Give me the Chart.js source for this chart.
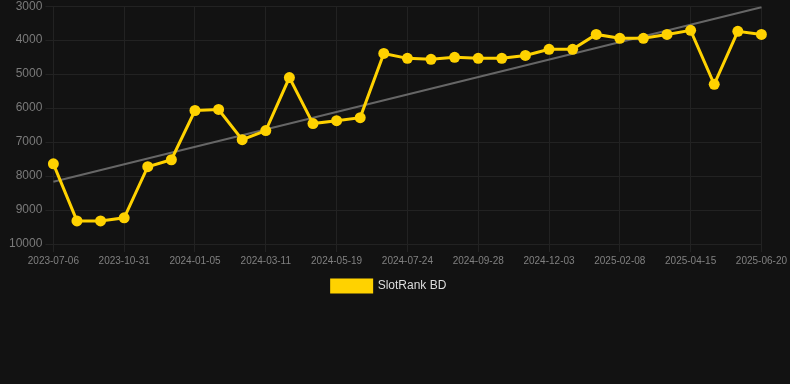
<!DOCTYPE html>
<html>
<head>
<meta charset="utf-8">
<script src="https://cdn.jsdelivr.net/npm/chart.js@4.4.0/dist/chart.umd.min.js"></script>
<style>
  html, body { margin: 0; padding: 0; background: #121212; overflow: hidden; }
  #wrap { width: 790px; height: 306px; position: relative; top: -4px; }
</style>
</head>
<body>
<div id="wrap"><canvas id="c"></canvas></div>
<script>
const dates = [
  "2023-07-06","2023-08-14","2023-09-22","2023-10-31","2023-11-22","2023-12-14",
  "2024-01-05","2024-01-27","2024-02-18","2024-03-11","2024-04-03","2024-04-26",
  "2024-05-19","2024-06-10","2024-07-02","2024-07-24","2024-08-15","2024-09-06",
  "2024-09-28","2024-10-20","2024-11-11","2024-12-03","2024-12-25","2025-01-17",
  "2025-02-08","2025-03-02","2025-03-24","2025-04-15","2025-05-07","2025-05-29",
  "2025-06-20"
];
const rankValues = [
  7640, 9320, 9320, 9230, 7725, 7520,
  6070, 6040, 6930, 6660, 5100, 6455,
  6370, 6280, 4390, 4535, 4565, 4505,
  4535, 4535, 4450, 4270, 4270, 3830,
  3945, 3945, 3830, 3710, 5300, 3740,
  3830
];
const trendStart = 8170;
const trendEnd = 3030;
const yTicks = [3000, 4000, 5000, 6000, 7000, 8000, 9000, 10000];
const seriesName = "SlotRank BD";

const trendValues = dates.map((d, i) => i === 0 ? trendStart : (i === dates.length - 1 ? trendEnd : null));

new Chart(document.getElementById('c'), {
  type: 'line',
  data: {
    labels: dates,
    datasets: [
      {
        label: seriesName,
        data: rankValues,
        borderColor: '#FFD200',
        backgroundColor: '#FFD200',
        borderWidth: 3,
        pointRadius: 5.5,
        pointHoverRadius: 5.5,
        pointBackgroundColor: '#FFD200',
        pointBorderWidth: 0,
        tension: 0,
        order: 1
      },
      {
        label: 'trend',
        data: trendValues,
        borderColor: '#666666',
        borderWidth: 2,
        pointRadius: 0,
        spanGaps: true,
        tension: 0,
        order: 2
      }
    ]
  },
  options: {
    responsive: true,
    maintainAspectRatio: false,
    animation: false,
    layout: { padding: { left: 0, right: 12, top: 0, bottom: 0 } },
    plugins: {
      legend: {
        position: 'bottom',
        labels: {
          color: '#dddddd',
          font: { family: 'Liberation Sans, Arial, sans-serif', size: 12 },
          boxWidth: 40,
          boxHeight: 12,
          filter: (item) => item.text !== 'trend'
        }
      },
      tooltip: { enabled: false }
    },
    scales: {
      x: {
        grid: { color: '#222222', tickColor: '#222222' },
        border: { color: '#222222' },
        ticks: {
          color: '#808080',
          font: { family: 'Liberation Sans, Arial, sans-serif', size: 10 },
          autoSkip: false,
          maxRotation: 0,
          callback: function(value, index) {
            return index % 3 === 0 ? dates[index] : null;
          }
        }
      },
      y: {
        reverse: true,
        min: yTicks[0],
        max: yTicks[yTicks.length - 1],
        afterBuildTicks: (axis) => { axis.ticks = yTicks.map(v => ({ value: v })); },
        afterFit: (axis) => { axis.width += 6; },
        grid: { color: '#222222', tickColor: '#222222' },
        border: { color: '#222222' },
        ticks: {
          color: '#7a7a7a',
          font: { family: 'Liberation Sans, Arial, sans-serif', size: 12 },
          callback: (v) => String(v)
        }
      }
    }
  }
});
</script>
</body>
</html>
